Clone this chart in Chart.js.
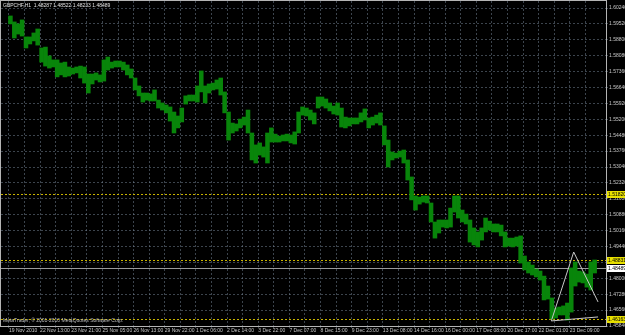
<!DOCTYPE html>
<html>
<head>
<meta charset="utf-8">
<script src="https://cdn.jsdelivr.net/npm/chart.js@4.4.1/dist/chart.umd.min.js"></script>
<style>
  html, body { margin: 0; padding: 0; background: #000; }
  #wrap { width: 625px; height: 335px; }
</style>
</head>
<body>
<div id="wrap"><canvas id="chart" width="625" height="335"></canvas></div>
<script>
// GBPCHF H1, 19 Nov - 23 Dec 2010, read as high/low per block of 4 hourly bars
const blockHigh = [
  1.5988, 1.5961, 1.5952, 1.5970, 1.5893, 1.5893, 1.5911, 1.5929, 1.5843, 1.5847,
  1.5807, 1.5789, 1.5789, 1.5775, 1.5779, 1.5757, 1.5752, 1.5757, 1.5761, 1.5757,
  1.5725, 1.5725, 1.5730, 1.5721, 1.5789, 1.5802, 1.5779, 1.5784, 1.5784, 1.5779,
  1.5766, 1.5748, 1.5707, 1.5671, 1.5639, 1.5639, 1.5635, 1.5653, 1.5607, 1.5594,
  1.5585, 1.5576, 1.5553, 1.5535, 1.5571, 1.5626, 1.5630, 1.5630, 1.5671, 1.5739,
  1.5671, 1.5680, 1.5684, 1.5698, 1.5707, 1.5644, 1.5553, 1.5503, 1.5499, 1.5521,
  1.5530, 1.5562, 1.5458, 1.5404, 1.5413, 1.5395, 1.5458, 1.5481, 1.5453, 1.5444,
  1.5449, 1.5453, 1.5449, 1.5463, 1.5553, 1.5576, 1.5571, 1.5562, 1.5549, 1.5621,
  1.5621, 1.5612, 1.5594, 1.5580, 1.5594, 1.5571, 1.5530, 1.5526, 1.5526, 1.5526,
  1.5549, 1.5567, 1.5526, 1.5530, 1.5539, 1.5549, 1.5490, 1.5426, 1.5372, 1.5367,
  1.5376, 1.5381, 1.5336, 1.5259, 1.5173, 1.5168, 1.5173, 1.5173, 1.5141, 1.5055,
  1.5064, 1.5064, 1.5064, 1.5118, 1.5173, 1.5173, 1.5109, 1.5091, 1.5064, 1.5028,
  1.5010, 1.5028, 1.5073, 1.5059, 1.5046, 1.5046, 1.5041, 1.5010, 1.4982, 1.4982,
  1.4987, 1.4992, 1.4901, 1.4874, 1.4860, 1.4842, 1.4833, 1.4810, 1.4765, 1.4711,
  1.4666, 1.4670, 1.4675, 1.4688, 1.4847, 1.4874, 1.4833, 1.4829, 1.4819, 1.4874,
  1.4883
];
const blockLow = [
  1.5952, 1.5888, 1.5906, 1.5897, 1.5843, 1.5861, 1.5875, 1.5856, 1.5779, 1.5761,
  1.5752, 1.5757, 1.5712, 1.5721, 1.5712, 1.5716, 1.5725, 1.5730, 1.5707, 1.5684,
  1.5639, 1.5680, 1.5698, 1.5689, 1.5693, 1.5743, 1.5752, 1.5757, 1.5757, 1.5743,
  1.5721, 1.5707, 1.5653, 1.5626, 1.5598, 1.5607, 1.5603, 1.5603, 1.5571, 1.5562,
  1.5549, 1.5512, 1.5458, 1.5481, 1.5508, 1.5589, 1.5603, 1.5603, 1.5598, 1.5644,
  1.5594, 1.5639, 1.5653, 1.5657, 1.5630, 1.5549, 1.5426, 1.5458, 1.5467, 1.5481,
  1.5494, 1.5458, 1.5336, 1.5322, 1.5358, 1.5349, 1.5322, 1.5417, 1.5417, 1.5417,
  1.5422, 1.5422, 1.5413, 1.5408, 1.5458, 1.5539, 1.5535, 1.5517, 1.5499, 1.5571,
  1.5580, 1.5571, 1.5558, 1.5544, 1.5539, 1.5485, 1.5481, 1.5490, 1.5499, 1.5499,
  1.5508, 1.5517, 1.5481, 1.5494, 1.5503, 1.5494, 1.5404, 1.5304, 1.5336, 1.5345,
  1.5349, 1.5322, 1.5245, 1.5155, 1.5109, 1.5136, 1.5145, 1.5141, 1.5055, 1.4982,
  1.5005, 1.5032, 1.5028, 1.5032, 1.5100, 1.5073, 1.5055, 1.5046, 1.4964, 1.4951,
  1.4942, 1.4973, 1.5010, 1.5019, 1.5010, 1.5010, 1.4992, 1.4942, 1.4946, 1.4942,
  1.4946, 1.4869, 1.4838, 1.4824, 1.4815, 1.4806, 1.4792, 1.4702, 1.4706, 1.4616,
  1.4620, 1.4634, 1.4634, 1.4611, 1.4647, 1.4765, 1.4783, 1.4779, 1.4760, 1.4747,
  1.4824
];
const barsPerBlock = 4;

// time axis: one label every 32 hourly bars
const dateLabels = [
  '19 Nov 2010', '22 Nov 13:00', '23 Nov 21:00', '25 Nov 05:00', '26 Nov 13:00',
  '29 Nov 22:00', '1 Dec 06:00', '2 Dec 14:00', '3 Dec 22:00', '7 Dec 07:00',
  '8 Dec 15:00', '9 Dec 23:00', '13 Dec 08:00', '14 Dec 16:00', '16 Dec 00:00',
  '17 Dec 08:00', '20 Dec 17:00', '22 Dec 01:00', '23 Dec 09:00'
];
const priceTicks = [
  1.45840, 1.46560, 1.47280, 1.48000, 1.48720, 1.49440, 1.50160, 1.50880, 1.51600,
  1.52320, 1.53040, 1.53760, 1.54480, 1.55200, 1.55920, 1.56640, 1.57360, 1.58080,
  1.58800, 1.59520, 1.60240
];

// horizontal lines, bid line and the drawn triangle
const levelLines = [1.51820, 1.48831, 1.46163];
const bidPrice = 1.48489;
const ohlc = [1.48287, 1.48522, 1.48233, 1.48489];
const triangleBars = [605, 557, 580, 605];
const trianglePrices = [1.4625, 1.4607, 1.4919, 1.4693];

const FONT = 'Liberation Sans';
Chart.defaults.font.family = FONT;
Chart.defaults.font.size = 5;

const mtOverlay = {
  id: 'mtOverlay',
  beforeDraw(chart) {
    const ctx = chart.ctx;
    ctx.save();
    ctx.fillStyle = '#000';
    ctx.fillRect(0, 0, chart.width, chart.height);
    ctx.restore();
  },
  beforeDatasetsDraw(chart) {
    const { ctx, chartArea: a, scales: { y } } = chart;
    ctx.save();
    ctx.lineWidth = 1;
    ctx.strokeStyle = '#c8b400';
    ctx.setLineDash([2, 2]);
    levelLines.forEach(v => {
      const py = Math.round(y.getPixelForValue(v)) + 0.5;
      ctx.beginPath(); ctx.moveTo(a.left, py); ctx.lineTo(a.right, py); ctx.stroke();
    });
    ctx.setLineDash([]);
    ctx.strokeStyle = '#9a9a9a';
    const by = Math.round(y.getPixelForValue(bidPrice)) + 0.5;
    ctx.beginPath(); ctx.moveTo(a.left, by); ctx.lineTo(a.right, by); ctx.stroke();
    ctx.restore();
  },
  afterDraw(chart) {
    const { ctx, chartArea: a, scales: { y } } = chart;
    ctx.save();
    // frame
    ctx.strokeStyle = '#b4b4b4';
    ctx.lineWidth = 1;
    ctx.strokeRect(a.left - 0.5, a.top - 0.5, a.right - a.left + 1, a.bottom - a.top + 1);

    ctx.font = '5px "' + FONT + '"';
    ctx.textBaseline = 'middle';
    ctx.textAlign = 'left';
    ctx.fillStyle = '#e0e0e0';
    ctx.fillText('GBPCHF,H1  ' + ohlc.map(v => v.toFixed(5)).join(' '), a.left + 2, a.top + 5);
    ctx.fillStyle = '#bdbdbd';
    ctx.fillText('MetaTrader, \u00a9 2001-2010 MetaQuotes Software Corp.', a.left + 2, a.bottom - 5);

    // price tags on the right axis
    const tag = (v, bg) => {
      const py = Math.round(y.getPixelForValue(v));
      ctx.fillStyle = bg;
      ctx.fillRect(a.right + 1, py - 3, chart.width - a.right - 1, 7);
      ctx.fillStyle = '#000';
      ctx.fillText(v.toFixed(5), a.right + 2, py + 0.5);
    };
    levelLines.forEach(v => tag(v, '#e8e000'));
    tag(bidPrice, '#ffffff');
    ctx.restore();
  }
};

const blocks = blockHigh.map((h, i) => ({ x: i * barsPerBlock + 1.5, y: [blockLow[i], h] }));
const triangle = triangleBars.map((b, i) => ({ x: b, y: trianglePrices[i] }));

new Chart(document.getElementById('chart'), {
  type: 'bar',
  data: {
    datasets: [
      {
        type: 'bar',
        data: blocks,
        backgroundColor: '#08850a',
        borderWidth: 0,
        barPercentage: 1,
        categoryPercentage: 1,
        order: 2
      },
      {
        type: 'line',
        data: triangle,
        borderColor: '#c8c8c8',
        borderWidth: 1,
        pointRadius: 0,
        tension: 0,
        fill: false,
        order: 1
      }
    ]
  },
  options: {
    responsive: false,
    animation: false,
    events: [],
    devicePixelRatio: 1,
    layout: { padding: { left: 1, top: 1, right: 0, bottom: 0 } },
    plugins: { legend: { display: false }, tooltip: { enabled: false }, title: { display: false } },
    scales: {
      x: {
        type: 'linear',
        position: 'bottom',
        min: 0,
        max: 605,
        afterBuildTicks: s => { s.ticks = []; for (let v = 0; v < 605; v += 16) s.ticks.push({ value: v }); },
        afterFit: s => { s.height = 9; s.paddingLeft = 0; s.paddingRight = 0; },
        ticks: {
          autoSkip: false,
          maxRotation: 0,
          minRotation: 0,
          align: 'start',
          padding: 0,
          color: '#c8c8c8',
          font: { size: 5 },
          callback: v => (v % 32 === 0 ? dateLabels[v / 32] : '')
        },
        grid: { color: 'rgba(119,136,153,0.5)', lineWidth: 1, tickLength: 2, offset: false },
        border: { display: false, dash: [2, 2] }
      },
      y: {
        type: 'linear',
        position: 'right',
        min: 1.45840,
        max: 1.60557,
        afterBuildTicks: s => { s.ticks = priceTicks.map(v => ({ value: v })); },
        afterFit: s => { s.width = 19; s.paddingTop = 0; s.paddingBottom = 0; },
        ticks: {
          padding: 1,
          color: '#c8c8c8',
          font: { size: 5 },
          callback: v => v.toFixed(5)
        },
        grid: { color: 'rgba(119,136,153,0.5)', lineWidth: 1, tickLength: 2 },
        border: { display: false, dash: [2, 2] }
      }
    }
  },
  plugins: [mtOverlay]
});
</script>
</body>
</html>
